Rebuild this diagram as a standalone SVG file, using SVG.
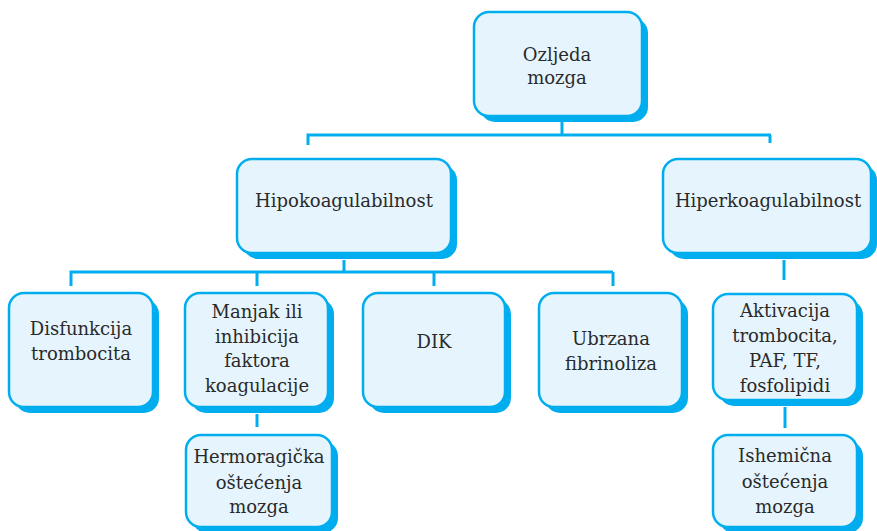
<svg xmlns="http://www.w3.org/2000/svg" width="877" height="531" viewBox="0 0 877 531">
<style>
.sh{fill:#00aeef}
.bx{fill:#e6f5fd;stroke:#00aeef;stroke-width:2.5}
.t{font-family:"DejaVu Serif","Liberation Serif",serif;font-size:18px;fill:#2a2a2a;text-anchor:middle}
.c{stroke:#00aeef;stroke-width:3;fill:none}
</style>
<rect width="877" height="531" fill="#ffffff"/>
<g id="connectors">
<path class="c" d="M562 122V135M308 145V135H771M770 135V143"/>
<path class="c" d="M344 260V272M71 286V272H613M257 272V286M434 272V286M613 272V286"/>
<path class="c" d="M784 260V280"/>
<path class="c" d="M257 414V427"/>
<path class="c" d="M785 407V428"/>
</g>
<g id="ozljeda">
<rect class="sh" x="480" y="18" width="168" height="104" rx="15"/>
<rect class="bx" x="474" y="12" width="168" height="104" rx="15"/>
<text class="t" x="557" y="61">Ozljeda</text>
<text class="t" x="557" y="84">mozga</text>
</g>
<g id="hipo">
<rect class="sh" x="243" y="165" width="214" height="94" rx="15"/>
<rect class="bx" x="237" y="159" width="214" height="94" rx="15"/>
<text class="t" x="344" y="207">Hipokoagulabilnost</text>
</g>
<g id="hiper">
<rect class="sh" x="669" y="165" width="208" height="94" rx="15"/>
<rect class="bx" x="663" y="159" width="208" height="94" rx="15"/>
<text class="t" x="768" y="207">Hiperkoagulabilnost</text>
</g>
<g id="disfunkcija">
<rect class="sh" x="15" y="299" width="144" height="114" rx="15"/>
<rect class="bx" x="9" y="293" width="144" height="114" rx="15"/>
<text class="t" x="81" y="335">Disfunkcija</text>
<text class="t" x="81" y="360">trombocita</text>
</g>
<g id="manjak">
<rect class="sh" x="191" y="299" width="143" height="114" rx="15"/>
<rect class="bx" x="185" y="293" width="143" height="114" rx="15"/>
<text class="t" x="257" y="318">Manjak ili</text>
<text class="t" x="257" y="343">inhibicija</text>
<text class="t" x="257" y="367">faktora</text>
<text class="t" x="257" y="392">koagulacije</text>
</g>
<g id="dik">
<rect class="sh" x="369" y="299" width="142" height="114" rx="15"/>
<rect class="bx" x="363" y="293" width="142" height="114" rx="15"/>
<text class="t" x="434" y="348">DIK</text>
</g>
<g id="ubrzana">
<rect class="sh" x="545" y="299" width="143" height="114" rx="15"/>
<rect class="bx" x="539" y="293" width="143" height="114" rx="15"/>
<text class="t" x="611" y="345">Ubrzana</text>
<text class="t" x="611" y="370">fibrinoliza</text>
</g>
<g id="aktivacija">
<rect class="sh" x="719" y="300" width="144" height="106" rx="15"/>
<rect class="bx" x="713" y="294" width="144" height="106" rx="15"/>
<text class="t" x="785" y="317">Aktivacija</text>
<text class="t" x="785" y="342">trombocita,</text>
<text class="t" x="785" y="367">PAF, TF,</text>
<text class="t" x="785" y="392">fosfolipidi</text>
</g>
<g id="hermoragicka">
<rect class="sh" x="192" y="441" width="146" height="92" rx="15"/>
<rect class="bx" x="186" y="435" width="146" height="92" rx="15"/>
<text class="t" x="259" y="463">Hermoragička</text>
<text class="t" x="259" y="489">oštećenja</text>
<text class="t" x="259" y="513">mozga</text>
</g>
<g id="ishemicna">
<rect class="sh" x="719" y="441" width="144" height="92" rx="15"/>
<rect class="bx" x="713" y="435" width="144" height="92" rx="15"/>
<text class="t" x="785" y="462">Ishemična</text>
<text class="t" x="785" y="488">oštećenja</text>
<text class="t" x="785" y="513">mozga</text>
</g>
</svg>
